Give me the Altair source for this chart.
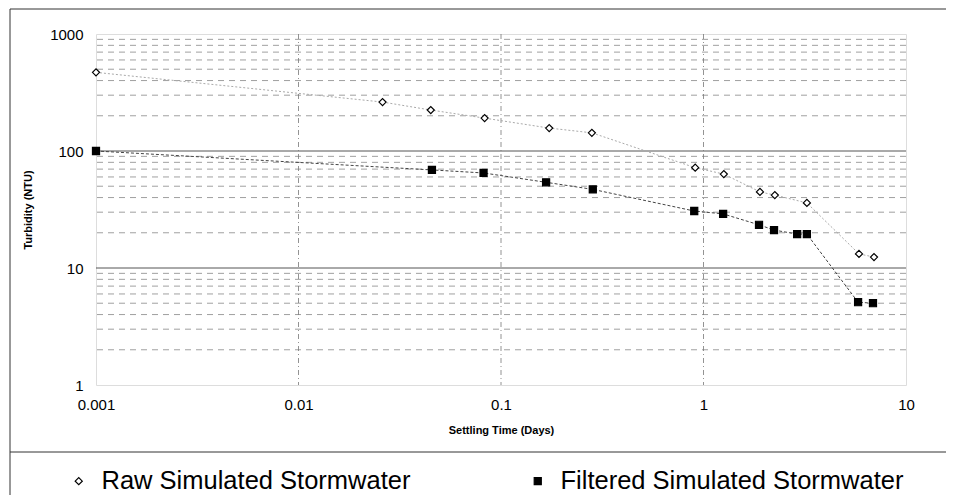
import altair as alt
import pandas as pd

# ---- data ----
raw_x = [0.001, 0.026, 0.045, 0.083, 0.173, 0.281, 0.91, 1.26, 1.90, 2.25, 3.24, 5.86, 6.95]
raw_y = [470, 262, 224, 191, 157, 143, 72, 63.5, 44.7, 42, 36, 13.2, 12.4]
filt_x = [0.001, 0.0456, 0.082, 0.167, 0.284, 0.90, 1.25, 1.88, 2.23, 2.9, 3.24, 5.8, 6.87]
filt_y = [100, 68.9, 64.9, 54, 47, 30.7, 29, 23.4, 21.1, 19.5, 19.5, 5.1, 5]
series_names = ["Raw Simulated Stormwater", "Filtered Simulated Stormwater"]
x_ticks = [0.001, 0.01, 0.1, 1, 10]
y_ticks = [1, 10, 100, 1000]
y_major_grid = [10, 100]
y_minor_grid = [m * d for d in [1, 10, 100] for m in range(2, 10)]
x_major_grid = [0.01, 0.1, 1]

raw_df = pd.DataFrame({"t": raw_x, "ntu": raw_y, "series": series_names[0], "order": range(len(raw_x))})
filt_df = pd.DataFrame({"t": filt_x, "ntu": filt_y, "series": series_names[1], "order": range(len(filt_x))})
df = pd.concat([raw_df, filt_df])

W, H = 810, 351
FONT = "Liberation Sans"

xscale = alt.Scale(type="log", domain=[0.001, 10], nice=False)
yscale = alt.Scale(type="log", domain=[1, 1000], nice=False)

xaxis = alt.Axis(values=x_ticks, format="~g", title="Settling Time (Days)",
                 grid=False, ticks=False, domain=False, labelFontSize=15,
                 labelPadding=12, labelFont=FONT, labelColor="#000", labelFlush=False,
                 titleFont=FONT, titleFontSize=11, titleFontWeight="bold",
                 titlePadding=12, titleColor="#000")
yaxis = alt.Axis(values=y_ticks, format="~g", title="Turbidity (NTU)",
                 grid=False, ticks=False, domain=False, labelFontSize=15,
                 labelPadding=13, labelFont=FONT, labelColor="#000", labelFlush=False,
                 titleFont=FONT, titleFontSize=11, titleFontWeight="bold",
                 titlePadding=16, titleColor="#000")

minor = alt.Chart(pd.DataFrame({"v": y_minor_grid})).mark_rule(
    color="#888", strokeDash=[6, 5], strokeWidth=0.8).encode(
    y=alt.Y("v:Q", scale=yscale, axis=yaxis))
major = alt.Chart(pd.DataFrame({"v": y_major_grid})).mark_rule(
    color="#555", strokeWidth=1).encode(y=alt.Y("v:Q", scale=yscale, axis=yaxis))
vgrid = alt.Chart(pd.DataFrame({"v": x_major_grid})).mark_rule(
    color="#777", strokeDash=[5, 3, 1, 3], strokeWidth=0.8).encode(
    x=alt.X("v:Q", scale=xscale, axis=xaxis))

raw_line = alt.Chart(raw_df).mark_line(strokeWidth=1, color="#aaa", strokeDash=[2, 2]).encode(
    x=alt.X("t:Q", scale=xscale, axis=xaxis), y=alt.Y("ntu:Q", scale=yscale, axis=yaxis), order="order:Q")
filt_line = alt.Chart(filt_df).mark_line(strokeWidth=1, color="#444", strokeDash=[3, 2]).encode(
    x=alt.X("t:Q", scale=xscale, axis=xaxis), y=alt.Y("ntu:Q", scale=yscale, axis=yaxis), order="order:Q")

legend = alt.Legend(title=None, orient="none", legendX=-30, legendY=434,
                    direction="horizontal", columns=2, columnPadding=114, padding=0,
                    labelFontSize=25.5, labelFont=FONT, labelColor="#000", labelLimit=0,
                    symbolSize=50, symbolStrokeWidth=1.2, symbolStrokeColor="black",
                    labelOffset=10)

points = alt.Chart(df).mark_point(filled=True, strokeWidth=1.2, opacity=1, size=50).encode(
    x=alt.X("t:Q", scale=xscale, axis=xaxis), y=alt.Y("ntu:Q", scale=yscale, axis=yaxis),
    shape=alt.Shape("series:N", scale=alt.Scale(domain=series_names, range=["diamond", "square"]),
                    legend=legend),
    fill=alt.Fill("series:N", scale=alt.Scale(domain=series_names, range=["white", "black"]),
                  legend=legend),
    stroke=alt.Stroke("series:N", scale=alt.Scale(domain=series_names, range=["black", "black"]),
                      legend=legend),
)

one = pd.DataFrame({"a": [0]})
frame_top = alt.Chart(one).mark_rule(color="#333", strokeWidth=1).encode(
    x=alt.value(-86), x2=alt.value(850), y=alt.value(-25))
frame_left = alt.Chart(one).mark_rule(color="#333", strokeWidth=1).encode(
    x=alt.value(-86), y=alt.value(-25), y2=alt.value(470))
frame_sep = alt.Chart(one).mark_rule(color="#333", strokeWidth=1).encode(
    x=alt.value(-86), x2=alt.value(850), y=alt.value(418))

chart = alt.layer(minor, major, vgrid, raw_line, filt_line, points,
                  frame_top, frame_left, frame_sep).properties(
    width=W, height=H,
    autosize=alt.AutoSizeParams(type="none"),
    padding={"left": 88, "top": 26, "right": 40, "bottom": 110},
).configure_view(stroke="#111", strokeWidth=1.2).configure(background="white")

chart.save("out.html", embed_options={"renderer": "svg", "actions": False})
